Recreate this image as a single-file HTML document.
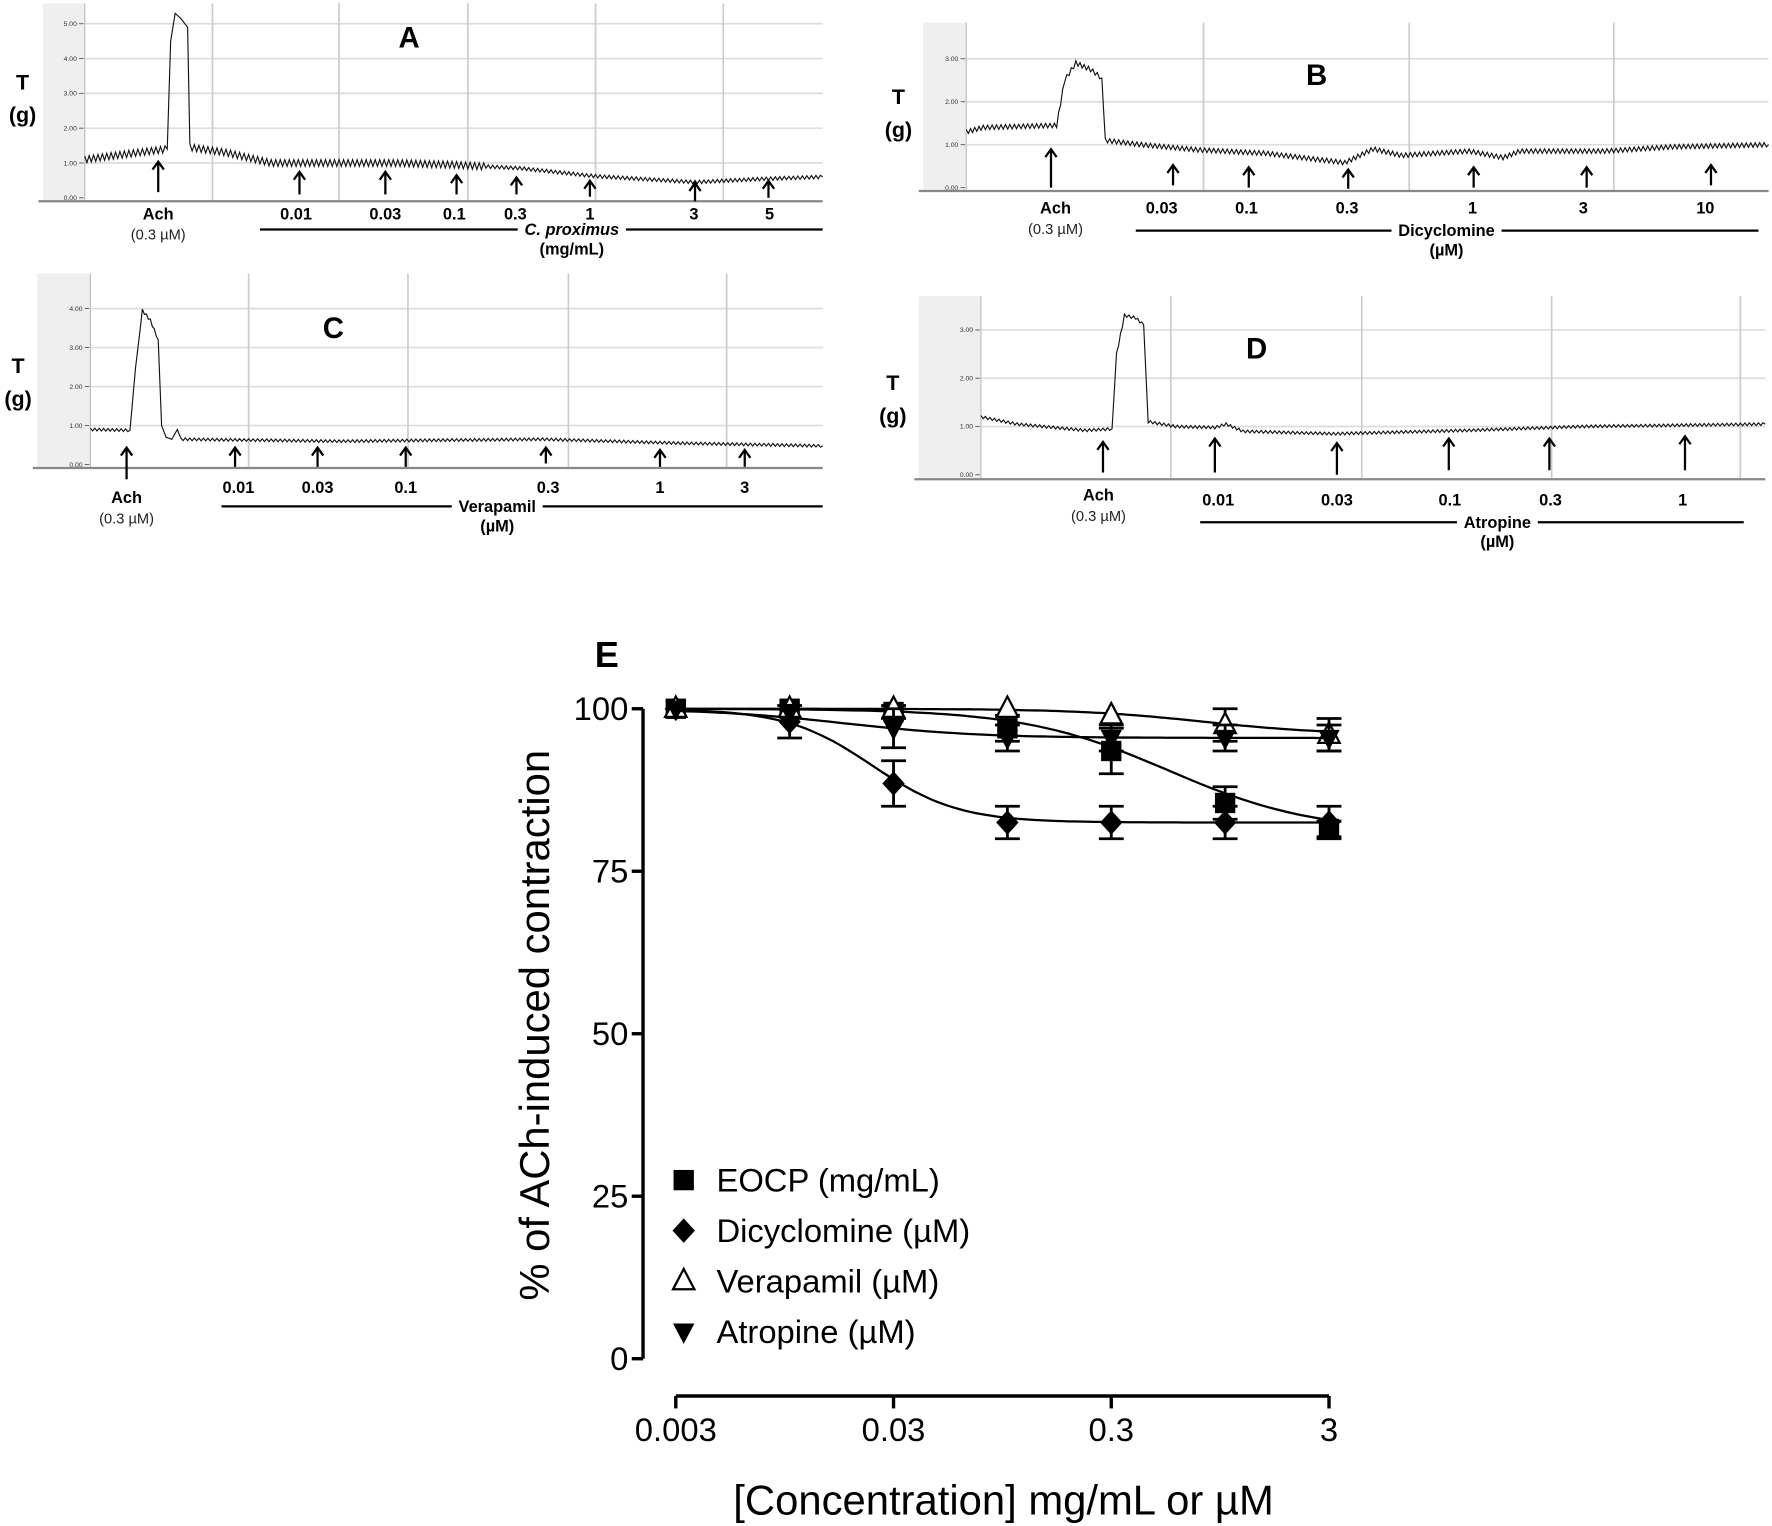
<!DOCTYPE html>
<html><head><meta charset="utf-8">
<style>
html,body{margin:0;padding:0;background:#fff;}
svg{display:block;}
text{font-family:"Liberation Sans",Arial,sans-serif;fill:#000;}
.tl{font-weight:bold;font-size:14.5px;}
.sm{font-size:13px;fill:#222;}
.yt{font-size:6px;fill:#333;}
.pl{font-weight:bold;font-size:26px;}
.tg{font-size:19px;font-weight:bold;}
</style></head>
<body>
<svg id="fig" width="1772" height="1526" viewBox="0 0 1568 1350" preserveAspectRatio="none" xmlns="http://www.w3.org/2000/svg">
<g id="traces"></g>
<g id="chartE"></g>
</svg>
<script>
// ===== Panel E data =====
const concentrations = [0.003, 0.01, 0.03, 0.1, 0.3, 1, 3];
const eocpValues = [100, 100, 99.5, 97, 93.5, 85.5, 81.5];
const eocpErr = [0.5, 0.8, 1, 2, 3.5, 2.5, 1.2];
const dicyValues = [100, 98, 88.5, 82.5, 82.5, 82.5, 82.5];
const dicyErr = [0.5, 2.5, 3.5, 2.5, 2.5, 2.5, 2.5];
const veraValues = [100, 100, 100, 100, 99, 97.5, 96];
const veraErr = [0.5, 0.5, 0.5, 0.5, 0.8, 2.5, 2.5];
const atroValues = [100, 99.5, 97, 95.5, 95.5, 95.5, 95.5];
const atroErr = [0.5, 0.8, 3, 2, 2, 2, 2];
// sigmoid fit params [top, bottom, EC50, hill]
const eocpFit = [100, 81, 0.55, 1.3];
const dicyFit = [100, 82.5, 0.024, 2.2];
const veraFit = [100, 96, 0.8, 1.5];
const atroFit = [100, 95.5, 0.018, 1.4];
const yTicks = [0, 25, 50, 75, 100];
const xTicks = [0.003, 0.03, 0.3, 3];
const xTickLabels = ["0.003", "0.03", "0.3", "3"];

// ===== Trace knots [x, grams] =====
const traceA = [[75,1.1],[110,1.25],[148,1.4],[151,4.5],[155,5.3],[160,5.15],[166,4.9],[168,1.45],[200,1.3],[240,1.0],[300,1.0],[350,1.0],[400,0.95],[460,0.85],[527,0.62],[615,0.45],[680,0.55],[728,0.6]];
const traceB = [[855,1.3],[870,1.4],[935,1.45],[942,2.5],[952,2.9],[965,2.75],[975,2.55],[978,1.1],[1010,1.0],[1060,0.88],[1120,0.8],[1190,0.58],[1215,0.9],[1240,0.75],[1300,0.85],[1330,0.7],[1345,0.85],[1420,0.85],[1480,0.95],[1565,1.0]];
const traceC = [[80,0.9],[115,0.88],[120,2.5],[126,3.95],[133,3.7],[140,3.2],[143,1.0],[147,0.7],[152,0.65],[157,0.9],[160,0.65],[300,0.6],[480,0.65],[600,0.55],[728,0.48]];
const traceD = [[868,1.2],[900,1.05],[960,0.92],[984,0.95],[988,2.5],[995,3.3],[1005,3.25],[1012,3.1],[1016,1.1],[1040,1.0],[1075,0.98],[1085,1.05],[1100,0.9],[1180,0.85],[1300,0.92],[1400,1.0],[1562,1.05]];

const NS = "http://www.w3.org/2000/svg";
function mk(tag, attrs, parent, txt){
  const e = document.createElementNS(NS, tag);
  for (const k in attrs) e.setAttribute(k, attrs[k]);
  if (txt !== undefined) e.textContent = txt;
  parent.appendChild(e);
  return e;
}
const tr = document.getElementById('traces');

function panel(cfg){
  const g = mk('g', {}, tr);
  
  
  const yv = v => cfg.y0 - v * cfg.ppu;
  const strip = mk('rect', {x:cfg.sx, y:cfg.top, width:cfg.x0 - cfg.sx, height:cfg.base - cfg.top, fill:'#efefef'}, g);
  
  
  cfg.yt.forEach(v => {
    if (v > 0) mk('line', {x1:cfg.x0, x2:cfg.x1, y1:yv(v), y2:yv(v), stroke:'#ddd', 'stroke-width':1.5}, g);
    mk('line', {x1:cfg.x0-5, x2:cfg.x0-1, y1:yv(v), y2:yv(v), stroke:'#555', 'stroke-width':0.8}, g);
    const t = mk('text', {x:cfg.x0-7, y:yv(v)+2, 'text-anchor':'end', class:'yt'}, g, v.toFixed(2));
    
    
  });
  cfg.vg.forEach(x => mk('line', {x1:x, x2:x, y1:cfg.top, y2:cfg.base, stroke:'#ccc', 'stroke-width':1.5}, g));
  mk('line', {x1:cfg.x0, x2:cfg.x0, y1:cfg.top, y2:cfg.base, stroke:'#bbb', 'stroke-width':1}, g);
  mk('line', {x1:cfg.sx-4, x2:cfg.x1, y1:cfg.base+1, y2:cfg.base+1, stroke:'#888', 'stroke-width':2}, g);
  let pts = [];
  const k = cfg.knots;
  for (let i = 0; i < k.length - 1; i++){
    const [xa, va] = k[i], [xb, vb] = k[i+1];
    const n = Math.max(1, Math.round((xb - xa) / 2));
    for (let j = 0; j < n; j++){
      const x = xa + (xb - xa) * j / n;
      const v = va + (vb - va) * j / n;
      const amp = (n > 3 ? cfg.noise(x) : 0) * ((pts.length % 2) ? 1 : -1);
      pts.push(x.toFixed(1) + ',' + (yv(v) + amp).toFixed(1));
    }
  }
  const last = k[k.length-1];
  pts.push(last[0] + ',' + yv(last[1]));
  const pl = mk('polyline', {points:pts.join(' '), fill:'none', stroke:'#111', 'stroke-width':1}, g);
  
  
  cfg.arrows.forEach(a => {
    const [x, y1, y2] = a;
    mk('line', {x1:x, x2:x, y1:y1, y2:y2, stroke:'#000', 'stroke-width':2}, g);
    mk('path', {d:`M${x-5},${y1+7} L${x},${y1} L${x+5},${y1+7}`, fill:'none', stroke:'#000', 'stroke-width':2}, g);
  });
  mk('line', {x1:cfg.lx1, x2:cfg.lx2, y1:cfg.lineY, y2:cfg.lineY, stroke:'#000', 'stroke-width':2}, g);
  const bg = mk('rect', {x:cfg.dx, y:cfg.lineY - 8, width:1, height:16, fill:'#fff'}, g);
  const dt = mk('text', {x:cfg.dx, y:cfg.lineY + 5, 'text-anchor':'middle', class:'tl', 'font-style':cfg.italic ? 'italic' : 'normal'}, g, cfg.drug);
  
  
  const w = dt.getComputedTextLength ? dt.getComputedTextLength() : 100;
  bg.setAttribute('x', cfg.dx - w/2 - 6);
  bg.setAttribute('width', w + 12);
  mk('text', {x:cfg.dx, y:cfg.lineY + 22, 'text-anchor':'middle', class:'tl'}, g, cfg.unit);
  cfg.labels.forEach((l, i) => {
    const yy = (i === 0 && cfg.achY) ? cfg.achY : cfg.ly;
    const t = mk('text', {x:l[0], y:yy, 'text-anchor':'middle', class:'tl'}, g, l[1]);
    
    
  });
  mk('text', {x:cfg.achX, y:(cfg.achY || cfg.ly) + 18, 'text-anchor':'middle', class:'sm'}, g, '(0.3 \u00B5M)');
  const T = mk('text', {x:cfg.tx, y:cfg.ty, 'text-anchor':'middle', class:'tg'}, g, 'T');
  
  
  mk('text', {x:cfg.tx, y:cfg.ty + 29, 'text-anchor':'middle', class:'tg', 'font-weight':'normal', 'font-family':'Liberation Serif, serif'}, g, '(g)');
  const P = mk('text', {x:cfg.px, y:cfg.py, 'text-anchor':'middle', class:'pl'}, g, cfg.id);
  
  
}

panel({id:'A', sx:38, x0:75, x1:728, top:3, base:177, y0:175, ppu:30.8, yt:[0,1,2,3,4,5], vg:[188,300,414,527,640],
  knots:traceA, noise:x => x < 430 ? 3 : 1.5,
  arrows:[[140,143,170],[265,152,172],[341,152,172],[404,155,172],[457,157,172],[522,160,174],[615,162,178],[680,160,175]],
  labels:[[140,'Ach'],[262,'0.01'],[341,'0.03'],[402,'0.1'],[456,'0.3'],[522,'1'],[614,'3'],[681,'5']], ly:194, achX:140,
  lx1:230, lx2:728, lineY:203, dx:506, drug:'C. proximus', italic:true, unit:'(mg/mL)', tx:20, ty:79, px:362, py:42});
panel({id:'B', sx:817, x0:855, x1:1565, top:20, base:168, y0:166, ppu:38, yt:[0,1,2,3], vg:[1065,1247,1428],
  knots:traceB, noise:x => 2,
  arrows:[[930,132,166],[1038,146,164],[1105,148,166],[1193,150,167],[1304,148,166],[1404,148,166],[1514,146,164]],
  labels:[[934,'Ach'],[1028,'0.03'],[1103,'0.1'],[1192,'0.3'],[1303,'1'],[1401,'3'],[1509,'10']], ly:189, achX:934,
  lx1:1005, lx2:1556, lineY:204, dx:1280, drug:'Dicyclomine', italic:false, unit:'(\u00B5M)', tx:795, ty:92, px:1165, py:75});
panel({id:'C', sx:33, x0:80, x1:728, top:242, base:413, y0:411, ppu:34.5, yt:[0,1,2,3,4], vg:[220,361,503,643],
  knots:traceC, noise:x => 1.2,
  arrows:[[112,396,424],[208,396,413],[281,396,413],[359,396,413],[483,396,410],[584,398,413],[659,398,413]],
  labels:[[112,'Ach'],[211,'0.01'],[281,'0.03'],[359,'0.1'],[485,'0.3'],[584,'1'],[659,'3']], ly:436, achY:445, achX:112,
  lx1:196, lx2:728, lineY:448, dx:440, drug:'Verapamil', italic:false, unit:'(\u00B5M)', tx:16, ty:330, px:295, py:299});
panel({id:'D', sx:813, x0:868, x1:1562, top:262, base:423, y0:420, ppu:42.7, yt:[0,1,2,3], vg:[1036,1205,1373,1540],
  knots:traceD, noise:x => 1.2,
  arrows:[[976,391,418],[1075,388,418],[1183,392,420],[1282,388,416],[1371,388,416],[1491,386,416]],
  labels:[[972,'Ach'],[1078,'0.01'],[1183,'0.03'],[1283,'0.1'],[1372,'0.3'],[1489,'1']], ly:447, achY:443, achX:972,
  lx1:1062, lx2:1543, lineY:462, dx:1325, drug:'Atropine', italic:false, unit:'(\u00B5M)', tx:790, ty:345, px:1112, py:317});

// ===== Panel E =====
const E = document.getElementById('chartE');
const X0 = 598, X1 = 1176, Y100 = 627, Y0 = 1202;
const xs = c => X0 + (Math.log10(c) - Math.log10(0.003)) / 3 * (X1 - X0);
const ys = v => Y0 - v / 100 * (Y0 - Y100);
const ax = mk('line', {x1:569, x2:569, y1:ys(0), y2:ys(100), stroke:'#000', 'stroke-width':3}, E);


yTicks.forEach(v => {
  mk('line', {x1:559, x2:569, y1:ys(v), y2:ys(v), stroke:'#000', 'stroke-width':3}, E);
  const t = mk('text', {x:556, y:ys(v) + 10, 'text-anchor':'end', 'font-size':29}, E, String(v));
  
  
});
const xa = mk('line', {x1:X0, x2:X1, y1:1235, y2:1235, stroke:'#000', 'stroke-width':3}, E);


xTicks.forEach((c, i) => {
  mk('line', {x1:xs(c), x2:xs(c), y1:1235, y2:1246, stroke:'#000', 'stroke-width':3}, E);
  const t = mk('text', {x:xs(c), y:1275, 'text-anchor':'middle', 'font-size':29}, E, xTickLabels[i]);
  
  
});
const xt = mk('text', {x:888, y:1340, 'text-anchor':'middle', 'font-size':37}, E, '[Concentration] mg/mL or \u00B5M');


const yt = mk('text', {x:0, y:0, 'text-anchor':'middle', 'font-size':37, transform:'translate(486,907) rotate(-90)'}, E, '% of ACh-induced contraction');


const el = mk('text', {x:537, y:590, 'text-anchor':'middle', 'font-size':32, 'font-weight':'bold'}, E, 'E');



function marker(type, x, y, s, parent){
  if (type === 'square') return mk('rect', {x:x-s, y:y-s, width:2*s, height:2*s, fill:'#000'}, parent);
  if (type === 'diamond') return mk('path', {d:`M${x},${y-s*1.2} L${x+s*1.1},${y} L${x},${y+s*1.2} L${x-s*1.1},${y} Z`, fill:'#000'}, parent);
  if (type === 'tri') return mk('path', {d:`M${x},${y-s*1.2} L${x+s*1.05},${y+s*0.8} L${x-s*1.05},${y+s*0.8} Z`, fill:'#fff', stroke:'#000', 'stroke-width':2}, parent);
  return mk('path', {d:`M${x},${y+s*1.2} L${x+s*1.05},${y-s*0.8} L${x-s*1.05},${y-s*0.8} Z`, fill:'#000'}, parent);
}
const series = [
  {name:'eocp', vals:eocpValues, err:eocpErr, fit:eocpFit, m:'square', label:'EOCP (mg/mL)'},
  {name:'dicyclomine', vals:dicyValues, err:dicyErr, fit:dicyFit, m:'diamond', label:'Dicyclomine (\u00B5M)'},
  {name:'verapamil', vals:veraValues, err:veraErr, fit:veraFit, m:'tri', label:'Verapamil (\u00B5M)'},
  {name:'atropine', vals:atroValues, err:atroErr, fit:atroFit, m:'invtri', label:'Atropine (\u00B5M)'}
];
series.forEach((s, si) => {
  const g = mk('g', {}, E);
  
  
  const [top, bot, ec, h] = s.fit;
  let d = '';
  for (let i = 0; i <= 120; i++){
    const lc = Math.log10(0.003) + 3 * i / 120;
    const c = Math.pow(10, lc);
    const v = bot + (top - bot) / (1 + Math.pow(c / ec, h));
    d += (i ? 'L' : 'M') + xs(c).toFixed(1) + ',' + ys(v).toFixed(1);
  }
  const fp = mk('path', {d:d, fill:'none', stroke:'#000', 'stroke-width':2}, g);
  
  
  concentrations.forEach((c, i) => {
    const x = xs(c), v = s.vals[i], e = s.err[i];
    if (e > 0.9){
      mk('line', {x1:x, x2:x, y1:ys(v+e), y2:ys(v-e), stroke:'#000', 'stroke-width':2.5}, g);
      mk('line', {x1:x-11, x2:x+11, y1:ys(v+e), y2:ys(v+e), stroke:'#000', 'stroke-width':2.5}, g);
      mk('line', {x1:x-11, x2:x+11, y1:ys(v-e), y2:ys(v-e), stroke:'#000', 'stroke-width':2.5}, g);
    }
    const p = marker(s.m, x, ys(v), 9, g);
    
    
  });
  const ly = 1044 + si * 44.7;
  const lg = mk('g', {}, E);
  
  
  marker(s.m, 605, ly, 9, lg);
  mk('text', {x:634, y:ly + 10, 'font-size':29}, lg, s.label);
});
</script>
</body></html>
